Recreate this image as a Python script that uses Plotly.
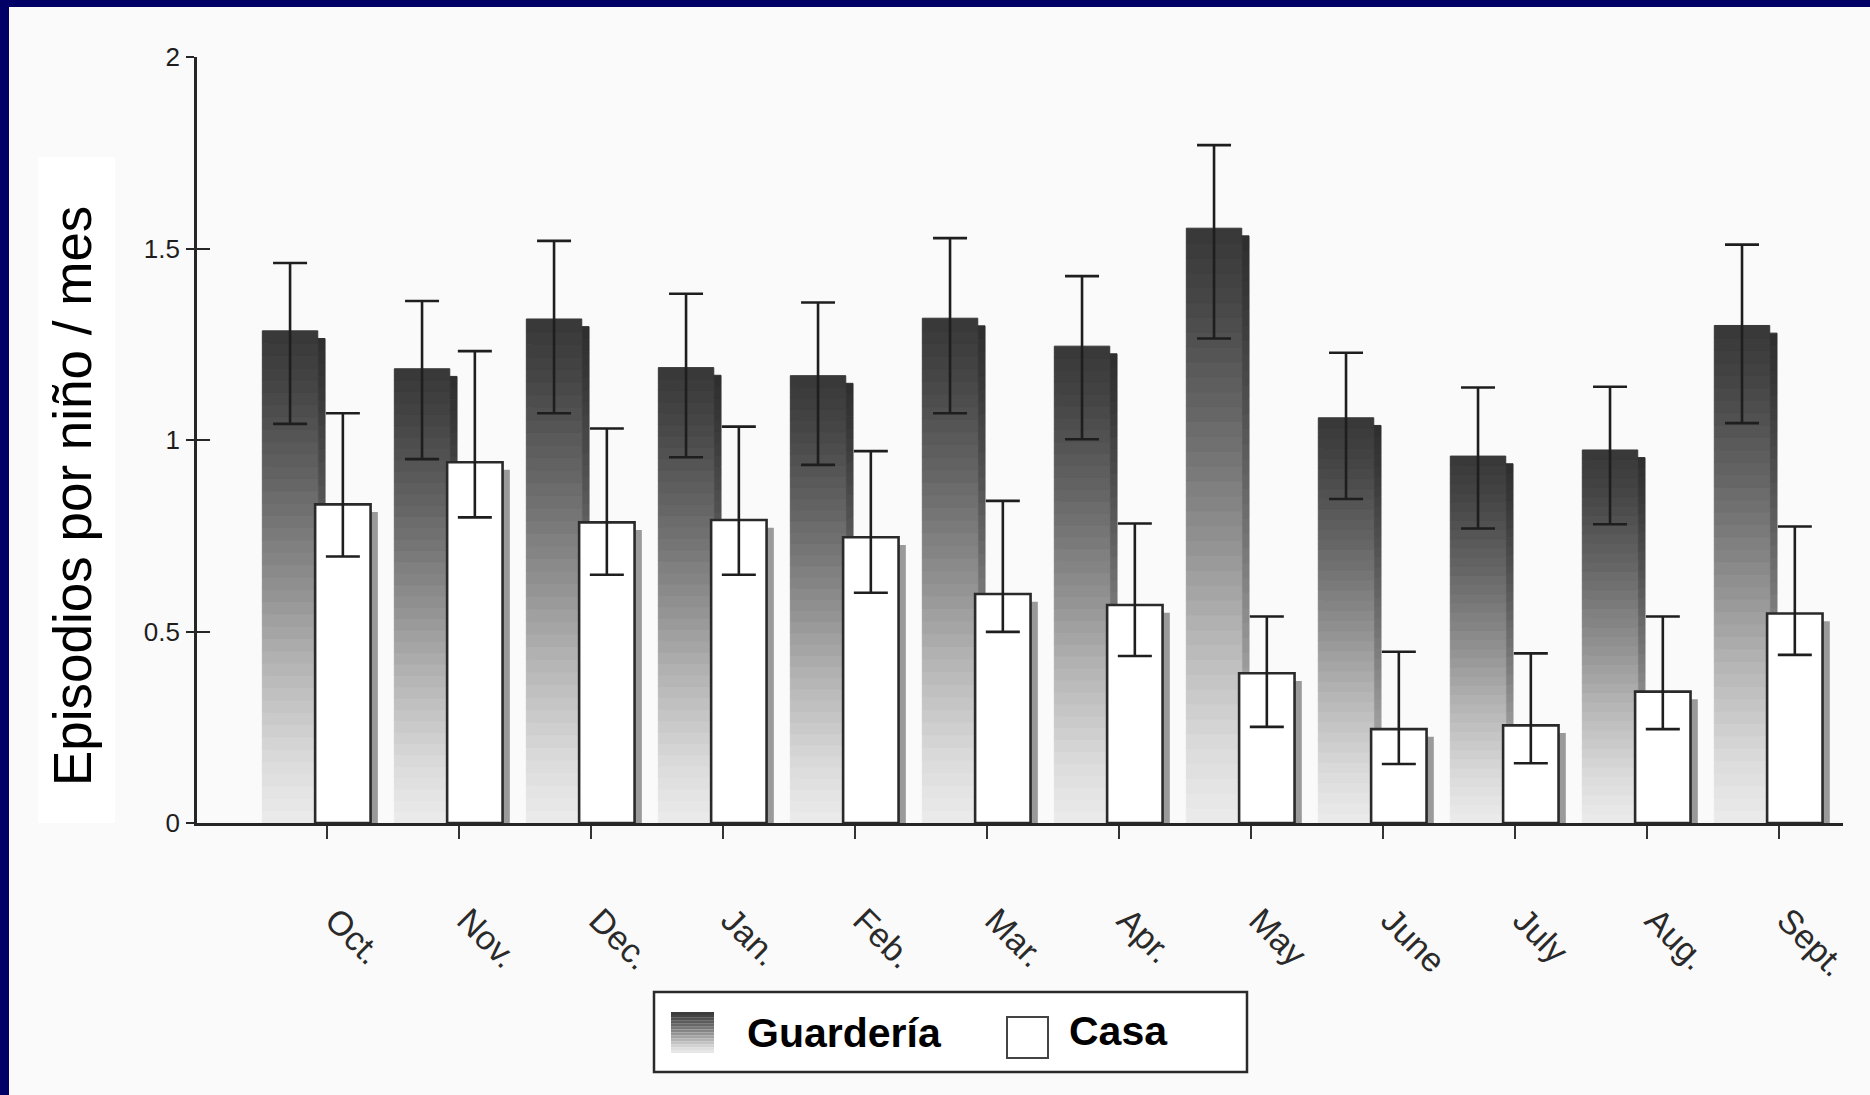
import numpy as np
import plotly.graph_objects as go

# ---------------- data ----------------
months = ["Oct.", "Nov.", "Dec.", "Jan.", "Feb.", "Mar.", "Apr.", "May",
          "June", "July", "Aug.", "Sept."]
guarderia = [1.285, 1.186, 1.316, 1.189, 1.168, 1.318, 1.245, 1.553, 1.058, 0.958, 0.974, 1.299]
guarderia_hi = [1.462, 1.363, 1.520, 1.382, 1.359, 1.527, 1.428, 1.770, 1.228, 1.137, 1.139, 1.510]
guarderia_lo = [1.042, 0.950, 1.070, 0.955, 0.935, 1.070, 1.002, 1.265, 0.846, 0.769, 0.780, 1.044]
casa = [0.832, 0.942, 0.785, 0.791, 0.746, 0.598, 0.569, 0.391, 0.245, 0.255, 0.343, 0.547]
casa_hi = [1.070, 1.232, 1.030, 1.035, 0.971, 0.841, 0.782, 0.539, 0.447, 0.443, 0.539, 0.774]
casa_lo = [0.696, 0.798, 0.648, 0.648, 0.601, 0.499, 0.436, 0.251, 0.154, 0.156, 0.245, 0.439]
y_ticks = [0, 0.5, 1, 1.5, 2]
y_tick_labels = ["0", "0.5", "1", "1.5", "2"]
y_title = "Episodios por niño / mes"
legend_labels = ["Guardería", "Casa"]

# ---------------- layout geometry (pixels) ----------------
W, H = 1870, 1095
L, R, T, B = 197, 27, 57, 272
PW, PH = W - L - R, H - T - B


def px(x):
    return (x - L) / PW


def py(y):
    return (H - B - y) / PH


G_OFF, C_OFF, BW = -0.49, -0.09, 0.42
SH_X, SH_Y = 0.055, 0.02
N = 40

SANS = "Liberation Sans, Arial, Helvetica, sans-serif"


def gray_at(f, dark=1.0):
    v = np.interp(f, [0, 0.12, 0.3, 0.5, 0.7, 0.88, 1.0],
                  [236, 220, 185, 140, 100, 70, 56]) * dark
    v = int(round(v))
    return f"rgb({v},{v},{v})"


g = np.array(guarderia)
c = np.array(casa)

fig = go.Figure()

# Guardería drop shadow (gradient)
for k in range(N):
    col = gray_at((k + 0.5) / N, 0.82)
    fig.add_trace(go.Bar(
        x=months, y=g / N, base=g * k / N - SH_Y,
        offset=G_OFF + SH_X, width=BW,
        marker=dict(color=col, line=dict(color=col, width=1)),
        showlegend=False, hoverinfo="skip"))

# Guardería bars (gradient, dark on top)
for k in range(N):
    col = gray_at((k + 0.5) / N)
    fig.add_trace(go.Bar(
        x=months, y=g / N, base=g * k / N,
        offset=G_OFF, width=BW,
        marker=dict(color=col, line=dict(color=col, width=1)),
        showlegend=False, hoverinfo="skip"))

# Guardería error bars (transparent carrier)
fig.add_trace(go.Bar(
    x=months, y=g, offset=G_OFF, width=BW, name=legend_labels[0],
    marker=dict(color="rgba(0,0,0,0)", line=dict(width=0)),
    error_y=dict(type="data", symmetric=False,
                 array=np.array(guarderia_hi) - g,
                 arrayminus=g - np.array(guarderia_lo),
                 color="#1e1e1e", thickness=2.6, width=17),
    showlegend=False))

# Casa shadow
fig.add_trace(go.Bar(
    x=months, y=c, base=-SH_Y, offset=C_OFF + SH_X, width=BW,
    marker=dict(color="#9a9a9a", line=dict(width=0)),
    showlegend=False, hoverinfo="skip"))

# Casa bars
fig.add_trace(go.Bar(
    x=months, y=c, offset=C_OFF, width=BW, name=legend_labels[1],
    marker=dict(color="#ffffff", line=dict(color="#2a2a2a", width=2.6)),
    error_y=dict(type="data", symmetric=False,
                 array=np.array(casa_hi) - c,
                 arrayminus=c - np.array(casa_lo),
                 color="#1e1e1e", thickness=2.6, width=17),
    showlegend=False))

# dummy trace for inner tick axis
fig.add_trace(go.Scatter(x=[], y=[], yaxis="y2", showlegend=False))

shapes = []
# y-title white panel
shapes.append(dict(type="rect", xref="paper", yref="paper", layer="below",
                   x0=px(38), x1=px(115), y0=py(823), y1=py(157),
                   fillcolor="#ffffff", line=dict(width=0)))
# legend box
shapes.append(dict(type="rect", xref="paper", yref="paper",
                   x0=px(654), x1=px(1247), y0=py(1072), y1=py(992),
                   fillcolor="#ffffff", line=dict(color="#2a2a2a", width=2.5)))
# Guardería legend swatch (gradient)
NS = 14
sx0, sx1, sy0, sy1 = 671, 714, 1012, 1053
for k in range(NS):
    ya = sy1 - (sy1 - sy0) * k / NS
    yb = sy1 - (sy1 - sy0) * (k + 1) / NS
    col = gray_at((k + 0.5) / NS)
    shapes.append(dict(type="rect", xref="paper", yref="paper",
                       x0=px(sx0), x1=px(sx1), y0=py(ya), y1=py(yb),
                       fillcolor=col, line=dict(width=0)))
# Casa legend swatch
shapes.append(dict(type="rect", xref="paper", yref="paper",
                   x0=px(1007), x1=px(1048), y0=py(1058), y1=py(1017),
                   fillcolor="#ffffff", line=dict(color="#444444", width=2)))
# navy frame (top and left)
shapes.append(dict(type="rect", xref="paper", yref="paper", layer="above",
                   x0=px(0), x1=px(W), y0=py(7), y1=py(0),
                   fillcolor="#000066", line=dict(width=0)))
shapes.append(dict(type="rect", xref="paper", yref="paper", layer="above",
                   x0=px(0), x1=px(9), y0=py(H), y1=py(0),
                   fillcolor="#000066", line=dict(width=0)))

annotations = [
    dict(text=y_title, xref="paper", yref="paper", x=px(73), y=py(496),
         textangle=-90, showarrow=False, xanchor="center", yanchor="middle",
         font=dict(family=SANS, size=53, color="#000000")),
    dict(text="<b>" + legend_labels[0] + "</b>", xref="paper", yref="paper",
         x=px(745), y=py(1033), showarrow=False, xanchor="left", yanchor="middle",
         font=dict(family=SANS, size=41, color="#000000")),
    dict(text="<b>" + legend_labels[1] + "</b>", xref="paper", yref="paper",
         x=px(1067), y=py(1031), showarrow=False, xanchor="left", yanchor="middle",
         font=dict(family=SANS, size=41, color="#000000")),
]

fig.update_layout(
    width=W, height=H,
    margin=dict(l=L, r=R, t=T, b=B, pad=0),
    paper_bgcolor="#fafafa", plot_bgcolor="rgba(0,0,0,0)",
    barmode="overlay", showlegend=False,
    shapes=shapes, annotations=annotations,
    xaxis=dict(
        type="category", range=[-0.985, 11.485],
        showline=True, linecolor="#262626", linewidth=2.6,
        ticks="outside", ticklen=13, tickwidth=2, tickcolor="#333333",
        tickangle=45, ticklabelstandoff=48, ticklabelshift=8,
        tickfont=dict(family=SANS, size=34, color="#2a2a2a"),
        showgrid=False, zeroline=False),
    yaxis=dict(
        range=[0, 2], tickvals=y_ticks, ticktext=y_tick_labels,
        showline=True, linecolor="#262626", linewidth=2.6,
        ticks="outside", ticklen=8, tickwidth=2.4, tickcolor="#262626",
        ticklabelstandoff=1,
        tickfont=dict(family=SANS, size=26, color="#1e1e1e"),
        showgrid=False, zeroline=False),
    yaxis2=dict(
        overlaying="y", anchor="x", side="left", range=[0, 2], tickvals=y_ticks,
        ticks="inside", ticklen=13, tickwidth=2.4, tickcolor="#262626",
        showticklabels=False, showline=False, showgrid=False, zeroline=False),
)

fig.write_html("out.html")
